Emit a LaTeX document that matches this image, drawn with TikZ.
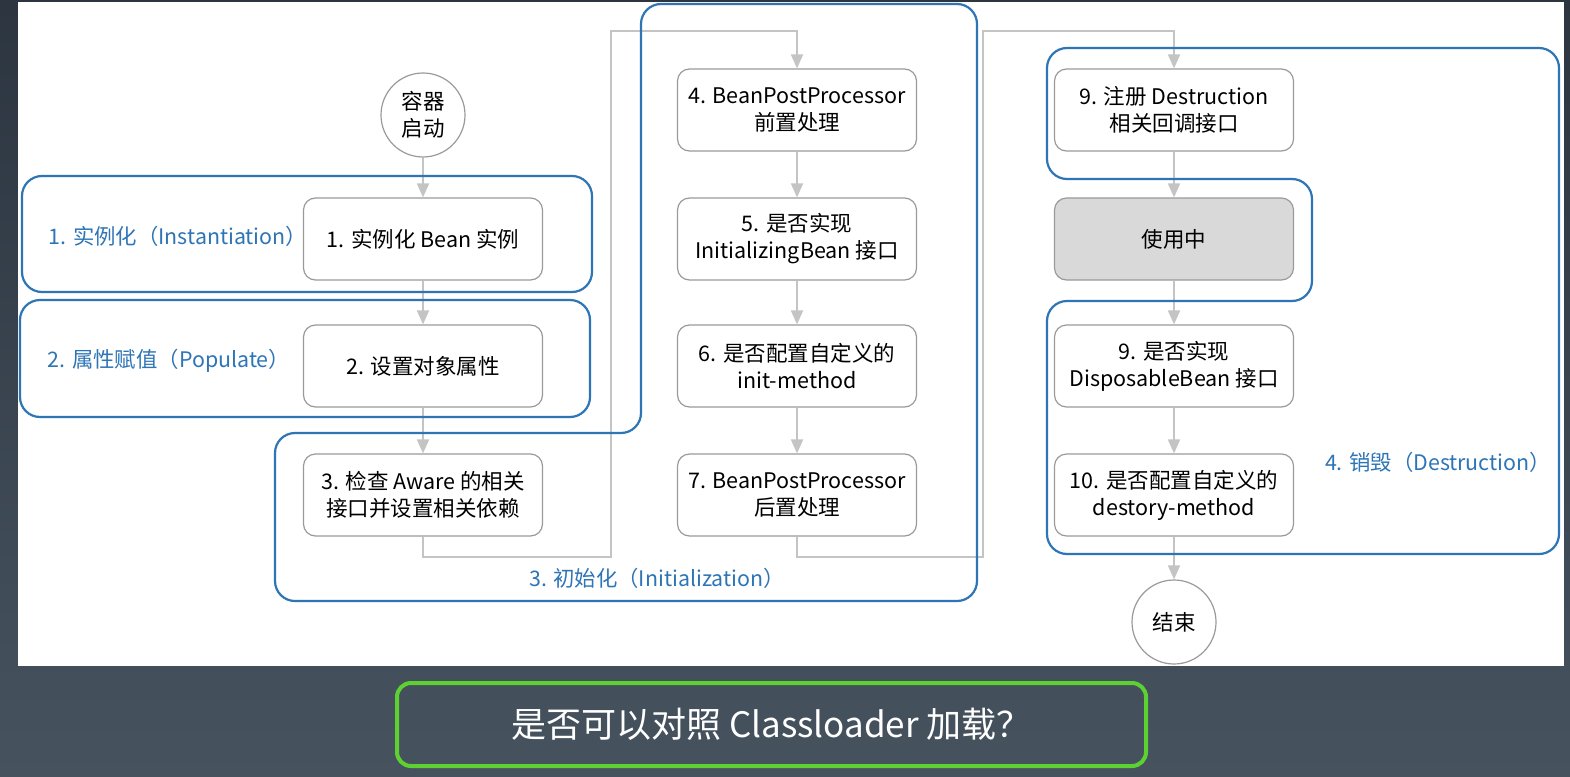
\documentclass[tikz,border=0pt]{standalone}
\usepackage{fontspec}
\setmainfont{Noto Sans CJK SC}
\usetikzlibrary{arrows.meta}
\definecolor{grpblue}{HTML}{2E75B6}
\definecolor{lnkgray}{HTML}{C4C4C4}
\definecolor{boxgray}{HTML}{9A9A9A}
\definecolor{usegray}{HTML}{D9D9D9}
\definecolor{slatetop}{HTML}{2C3540}
\definecolor{slatebot}{HTML}{46535F}
\definecolor{okgreen}{HTML}{5ED132}

\begin{document}
\begin{tikzpicture}[x=1pt, y=-1pt,
    stepbox/.style={draw=boxgray, line width=1.2pt, rounded corners=12pt, fill=white,
        minimum width=239pt, minimum height=82pt, align=center, inner sep=2pt,
        font=\fontsize{21.5}{27}\selectfont},
    endpt/.style={circle, draw=boxgray, line width=1.2pt, fill=white, minimum size=84pt,
        inner sep=0pt, align=center, font=\fontsize{21.5}{27}\selectfont},
    link/.style={draw=lnkgray, line width=1.8pt, -{Triangle[width=12pt, length=14pt]}},
    grp/.style={draw=grpblue, line width=2.2pt, rounded corners=20pt},
    grplabel/.style={text=grpblue, font=\fontsize{21.4}{24}\selectfont}]
    \useasboundingbox (0,0) rectangle (1570,776);
    \shade[top color=slatetop, bottom color=slatebot] (0,0) rectangle (1570,776);
    \fill[white] (18,2) rectangle (1564,666);

    % left column
    \node[endpt] (s) at (423,115) {容器\\启动};
    \node[stepbox] (b1) at (423,239) {1. 实例化 Bean 实例};
    \node[stepbox] (b2) at (423,366) {2. 设置对象属性};
    \node[stepbox] (b3) at (423,495) {3. 检查 Aware 的相关\\接口并设置相关依赖};

    % middle column
    \node[stepbox] (b4) at (797,110) {4. BeanPostProcessor\\前置处理};
    \node[stepbox] (b5) at (797,239) {5. 是否实现\\InitializingBean 接口};
    \node[stepbox] (b6) at (797,366) {6. 是否配置自定义的\\init-method};
    \node[stepbox] (b7) at (797,495) {7. BeanPostProcessor\\后置处理};

    % right column
    \node[stepbox] (d1) at (1174,110) {9. 注册 Destruction\\相关回调接口};
    \node[stepbox, fill=usegray] (d2) at (1174,239) {使用中};
    \node[stepbox] (d3) at (1174,366) {9. 是否实现\\DisposableBean 接口};
    \node[stepbox] (d4) at (1174,495) {10. 是否配置自定义的\\destory-method};
    \node[endpt] (e) at (1174,622) {结束};

    \coordinate (k1) at (611,557);
    \coordinate (k2) at (611,31);
    \coordinate (k3) at (983,557);
    \coordinate (k4) at (983,31);

    \draw[link] (s) -- (b1);
    \foreach \a/\b in {b1/b2, b2/b3, b4/b5, b5/b6, b6/b7, d1/d2, d2/d3, d3/d4, d4/e}
        \draw[link] (\a) -- (\b);
    \draw[link] (b3.south) |- (k1) -- (k2) -| (b4.north);
    \draw[link] (b7.south) |- (k3) -- (k4) -| (d1.north);

    % phases
    \draw[grp] (22,176) rectangle (592,292);
    \draw[grp] (20,300) rectangle (590,417);
    \draw[grp] (275,433) -- (275,601) -- (977,601) -- (977,4) -- (641,4) -- (641,433) -- cycle;
    \draw[grp] (1047,48) -- (1559,48) -- (1559,554) -- (1047,554) -- (1047,301)
        -- (1312,301) -- (1312,179) -- (1047,179) -- cycle;
    \node[grplabel] (p1) at (178,236) {1. 实例化（Instantiation）};
    \node[grplabel] (p2) at (169,361) {2. 属性赋值（Populate）};
    \node[grplabel] (p3) at (657,578) {3. 初始化（Initialization）};
    \node[grplabel] (p4) at (1438,462) {4. 销毁（Destruction）};

    \node[draw=okgreen, line width=4pt, rounded corners=14pt, minimum width=749pt,
        minimum height=83pt, text=white, font=\fontsize{35}{35}\selectfont]
        (q) at (771.5,724.5) {是否可以对照 Classloader 加载？};
\end{tikzpicture}
\end{document}
